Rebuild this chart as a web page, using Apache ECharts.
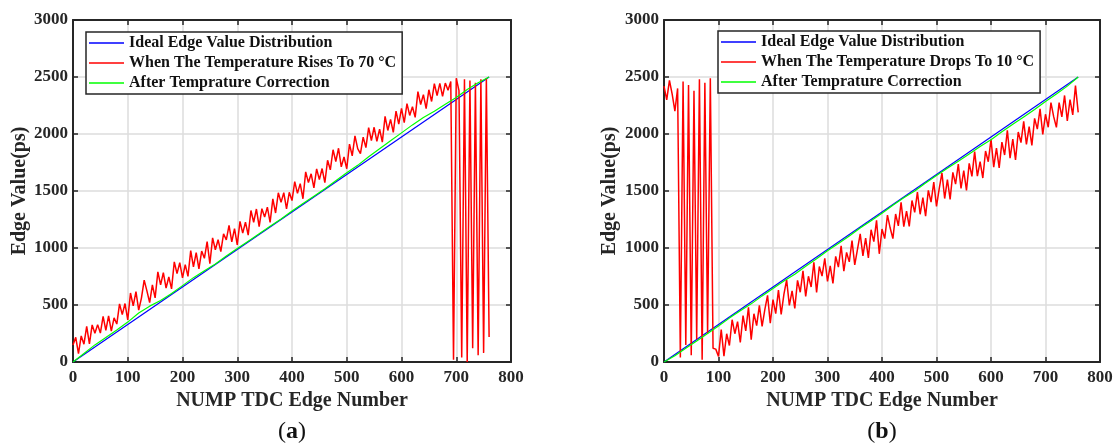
<!DOCTYPE html>
<html><head><meta charset="utf-8">
<script src="https://cdn.jsdelivr.net/npm/echarts@6/dist/echarts.min.js"></script>
<style>html,body{margin:0;padding:0;background:#fff}#c{width:1118px;height:448px}</style>
</head><body><div id="c"></div>
<script>
// ---- data ----
const xTicks = [0,100,200,300,400,500,600,700,800];
const yTicks = [0,500,1000,1500,2000,2500,3000];
const redStep = 5;    // edge-number spacing of red samples
const greenStep = 20; // edge-number spacing of green samples
const idealX = [0, 760];
const idealY = [0, 2500];
const nameIdeal = 'Ideal Edge Value Distribution';
const nameRise = 'When The Temperature Rises To 70 °C';
const nameDrop = 'When The Temperature Drops To 10 °C';
const nameCorr = 'After Temprature Correction';

const redA = [150,216,73,229,156,312,159,325,252,328,254,401,277,404,270,387,333,510,416,513,
369,605,492,618,455,561,718,624,521,677,563,790,676,783,649,746,642,879,775,871,
738,854,751,977,834,960,817,973,910,1056,862,1089,985,1072,968,1125,1071,1198,1054,1170,
1027,1233,1130,1226,1113,1329,1226,1342,1188,1345,1271,1358,1224,1431,1307,1484,1400,1486,1343,1489,
1416,1582,1479,1565,1432,1668,1574,1651,1527,1694,1600,1697,1573,1770,1686,1862,1759,1875,1712,1798,
1695,1911,1808,1984,1871,1827,1973,1880,2056,1943,2059,1936,2042,1929,2155,2031,2128,2014,2201,2087,
2224,2100,2267,2163,2239,2146,2372,2259,2345,2222,2388,2285,2441,2338,2444,2330,2447,2383,
2460,20,2490,2380,40,2480,0,2470,120,2450,60,2480,80,2490,220];

const greenA = [0,75,150,215,280,350,430,490,540,600,670,740,800,860,930,995,1060,1125,1190,1255,
1325,1390,1455,1520,1590,1660,1725,1800,1870,1940,2010,2080,2145,2200,2260,2320,2390,2450,2500];

const redB = [2420,2300,2470,2350,2200,2400,40,2460,150,2430,60,2380,200,2480,20,2450,250,2490,120,
113,49,285,52,248,145,371,248,354,171,407,273,480,196,423,319,496,312,459,585,341,
548,424,631,417,594,720,497,623,470,716,612,799,575,752,658,875,611,838,754,910,
707,843,690,926,833,1019,796,962,878,1065,851,988,1124,931,1087,914,1160,1056,1243,949,
1166,1082,1289,1175,1082,1298,1194,1401,1187,1324,1190,1417,1313,1490,1296,1442,1279,1505,1402,1578,
1365,1521,1658,1434,1601,1427,1663,1560,1736,1523,1679,1506,1742,1629,1845,1631,1758,1614,1851,1757,
1954,1710,1877,1703,1929,1816,2032,1789,1955,1772,2018,1925,2111,1908,2064,1900,2137,2043,2220,1996,
2173,2059,2276,2152,2058,2275,2151,2338,2114,2301,2167,2424,2190];

const greenB = [0,55,120,185,250,315,385,450,510,580,645,710,770,840,905,975,1040,1105,1175,1240,
1305,1375,1440,1500,1570,1635,1700,1760,1825,1890,1950,2020,2085,2150,2215,2285,2350,2420,2500];

// ---- chart ----
const FONT = 'Liberation Serif';
const AX = '#262626';
const toPairs = (arr, step) => arr.map((v, i) => [i * step, v]);
const idealPairs = idealX.map((x, i) => [x, idealY[i]]);

const grids = [
  {left: 73, top: 20, width: 438, height: 342},
  {left: 664, top: 20, width: 436, height: 342}
];

function xAxes(gi) {
  return [{
    type: 'value', gridIndex: gi, min: xTicks[0], max: xTicks[xTicks.length-1], interval: 100,
    name: 'NUMP TDC Edge Number', nameLocation: 'middle', nameGap: 28,
    nameTextStyle: {fontFamily: FONT, fontWeight: 'bold', fontSize: 20, color: AX},
    axisLine: {show: true, onZero: false, lineStyle: {color: AX, width: 2}},
    axisTick: {show: true, inside: true, length: 5, lineStyle: {color: AX, width: 1.5}},
    axisLabel: {fontFamily: FONT, fontWeight: 'bold', fontSize: 17, color: AX, margin: 7,
      formatter: v => String(v)},
    splitLine: {show: true, lineStyle: {color: '#dcdcdc', width: 1.5}}
  }, {
    type: 'value', gridIndex: gi, position: 'top', min: 0, max: 800, interval: 100,
    axisLine: {show: true, onZero: false, lineStyle: {color: AX, width: 2}},
    axisTick: {show: true, inside: true, length: 5, lineStyle: {color: AX, width: 1.5}},
    axisLabel: {show: false}, splitLine: {show: false}
  }];
}
function yAxes(gi, gap) {
  return [{
    type: 'value', gridIndex: gi, min: yTicks[0], max: yTicks[yTicks.length-1], interval: 500,
    name: 'Edge Value(ps)', nameLocation: 'middle', nameGap: gap,
    nameTextStyle: {fontFamily: FONT, fontWeight: 'bold', fontSize: 20, color: AX},
    axisLine: {show: true, onZero: false, lineStyle: {color: AX, width: 2}},
    axisTick: {show: true, inside: true, length: 5, lineStyle: {color: AX, width: 1.5}},
    axisLabel: {fontFamily: FONT, fontWeight: 'bold', fontSize: 17, color: AX, margin: 5,
      formatter: v => String(v)},
    splitLine: {show: true, lineStyle: {color: '#dcdcdc', width: 1.5}}
  }, {
    type: 'value', gridIndex: gi, position: 'right', min: 0, max: 3000, interval: 500,
    axisLine: {show: true, onZero: false, lineStyle: {color: AX, width: 2}},
    axisTick: {show: true, inside: true, length: 5, lineStyle: {color: AX, width: 1.5}},
    axisLabel: {show: false}, splitLine: {show: false}
  }];
}

function lineSeries(name, data, color, xi, yi, z, w) {
  return {
    type: 'line', name, data, xAxisIndex: xi, yAxisIndex: yi,
    symbol: 'none', showSymbol: false, animation: false, z,
    lineStyle: {color, width: w}, itemStyle: {color}
  };
}

function legend(left, top, names) {
  return {
    left, top, orient: 'vertical', data: names,
    icon: 'rect', backgroundColor: '#fff', borderColor: AX, borderWidth: 1.5,
    padding: [3, 6, 3, 3], itemGap: 4, itemWidth: 35, itemHeight: 1.5,
    textStyle: {fontFamily: FONT, fontWeight: 'bold', fontSize: 16, color: '#111'},
    selectedMode: false
  };
}

const option = {
  backgroundColor: '#fff',
  animation: false,
  grid: grids,
  xAxis: [...xAxes(0), ...xAxes(1)],
  yAxis: [...yAxes(0, 43), ...yAxes(1, 44)],
  legend: [
    legend(86, 32, [nameIdeal, nameRise, nameCorr]),
    legend(718, 31, [nameIdeal, nameDrop, nameCorr])
  ],
  series: [
    lineSeries(nameIdeal, idealPairs, '#0000ff', 0, 0, 2, 1.2),
    lineSeries(nameRise, toPairs(redA, redStep), '#ff0000', 0, 0, 3, 1.5),
    lineSeries(nameCorr, toPairs(greenA, greenStep), '#00ff00', 0, 0, 4, 1.2),
    lineSeries(nameIdeal, idealPairs, '#0000ff', 2, 2, 2, 1.2),
    lineSeries(nameDrop, toPairs(redB, redStep), '#ff0000', 2, 2, 3, 1.5),
    lineSeries(nameCorr, toPairs(greenB, greenStep), '#00ff00', 2, 2, 4, 1.2)
  ],
  graphic: [
    {type: 'text', x: 292, y: 432, style: {text: '({b|a})', fontFamily: FONT, fontSize: 24, fill: '#111',
      align: 'center', verticalAlign: 'middle', rich: {b: {fontFamily: FONT, fontWeight: 'bold', fontSize: 24, fill: '#111'}}}},
    {type: 'text', x: 882, y: 432, style: {text: '({b|b})', fontFamily: FONT, fontSize: 24, fill: '#111',
      align: 'center', verticalAlign: 'middle', rich: {b: {fontFamily: FONT, fontWeight: 'bold', fontSize: 24, fill: '#111'}}}}
  ]
};
const chart = echarts.init(document.getElementById('c'), null, {renderer: 'canvas'});
chart.setOption(option);
</script></body></html>
